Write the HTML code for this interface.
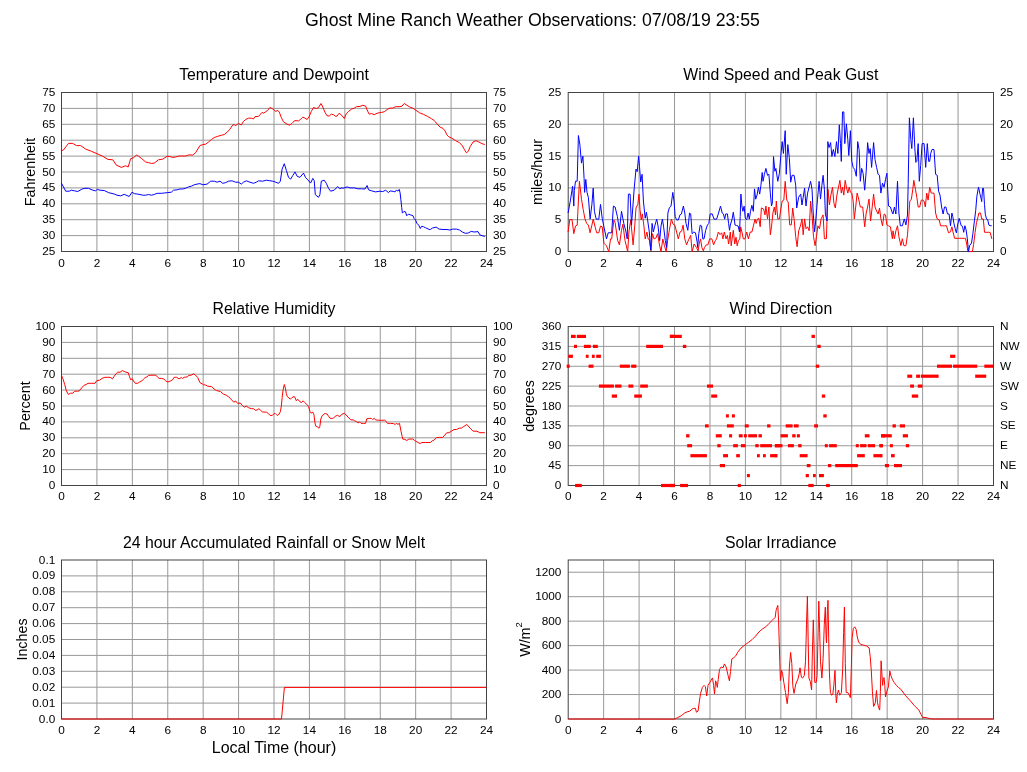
<!DOCTYPE html><html><head><meta charset="utf-8"><style>html,body{margin:0;padding:0;background:#fff;}svg{display:block;will-change:transform;}text{font-family:"Liberation Sans", sans-serif;fill:#000;}</style></head><body>
<svg width="1027" height="772" viewBox="0 0 1027 772">
<text x="532.5" y="26" font-size="17.7" text-anchor="middle">Ghost Mine Ranch Weather Observations: 07/08/19 23:55</text>
<g stroke="#989898" stroke-width="1"><line x1="96.92" y1="92.5" x2="96.92" y2="251.5"/><line x1="132.33" y1="92.5" x2="132.33" y2="251.5"/><line x1="167.75" y1="92.5" x2="167.75" y2="251.5"/><line x1="203.17" y1="92.5" x2="203.17" y2="251.5"/><line x1="238.58" y1="92.5" x2="238.58" y2="251.5"/><line x1="274.00" y1="92.5" x2="274.00" y2="251.5"/><line x1="309.42" y1="92.5" x2="309.42" y2="251.5"/><line x1="344.83" y1="92.5" x2="344.83" y2="251.5"/><line x1="380.25" y1="92.5" x2="380.25" y2="251.5"/><line x1="415.67" y1="92.5" x2="415.67" y2="251.5"/><line x1="451.08" y1="92.5" x2="451.08" y2="251.5"/><line x1="61.5" y1="235.60" x2="486.5" y2="235.60"/><line x1="61.5" y1="219.70" x2="486.5" y2="219.70"/><line x1="61.5" y1="203.80" x2="486.5" y2="203.80"/><line x1="61.5" y1="187.90" x2="486.5" y2="187.90"/><line x1="61.5" y1="172.00" x2="486.5" y2="172.00"/><line x1="61.5" y1="156.10" x2="486.5" y2="156.10"/><line x1="61.5" y1="140.20" x2="486.5" y2="140.20"/><line x1="61.5" y1="124.30" x2="486.5" y2="124.30"/><line x1="61.5" y1="108.40" x2="486.5" y2="108.40"/></g>
<g font-size="11.8"><text x="55.25" y="255.02" text-anchor="end">25</text><text x="493.00" y="255.02">25</text><text x="55.25" y="239.12" text-anchor="end">30</text><text x="493.00" y="239.12">30</text><text x="55.25" y="223.22" text-anchor="end">35</text><text x="493.00" y="223.22">35</text><text x="55.25" y="207.32" text-anchor="end">40</text><text x="493.00" y="207.32">40</text><text x="55.25" y="191.42" text-anchor="end">45</text><text x="493.00" y="191.42">45</text><text x="55.25" y="175.52" text-anchor="end">50</text><text x="493.00" y="175.52">50</text><text x="55.25" y="159.62" text-anchor="end">55</text><text x="493.00" y="159.62">55</text><text x="55.25" y="143.72" text-anchor="end">60</text><text x="493.00" y="143.72">60</text><text x="55.25" y="127.82" text-anchor="end">65</text><text x="493.00" y="127.82">65</text><text x="55.25" y="111.92" text-anchor="end">70</text><text x="493.00" y="111.92">70</text><text x="55.25" y="96.02" text-anchor="end">75</text><text x="493.00" y="96.02">75</text><text x="61.50" y="267.00" text-anchor="middle">0</text><text x="96.92" y="267.00" text-anchor="middle">2</text><text x="132.33" y="267.00" text-anchor="middle">4</text><text x="167.75" y="267.00" text-anchor="middle">6</text><text x="203.17" y="267.00" text-anchor="middle">8</text><text x="238.58" y="267.00" text-anchor="middle">10</text><text x="274.00" y="267.00" text-anchor="middle">12</text><text x="309.42" y="267.00" text-anchor="middle">14</text><text x="344.83" y="267.00" text-anchor="middle">16</text><text x="380.25" y="267.00" text-anchor="middle">18</text><text x="415.67" y="267.00" text-anchor="middle">20</text><text x="451.08" y="267.00" text-anchor="middle">22</text><text x="486.50" y="267.00" text-anchor="middle">24</text></g>
<text x="274.00" y="80.00" font-size="15.8" text-anchor="middle">Temperature and Dewpoint</text>
<text transform="translate(35.00,172.00) rotate(-90)" font-size="14.3" text-anchor="middle">Fahrenheit</text>
<rect x="61.5" y="92.5" width="425.00" height="159.0" fill="none" stroke="#444" stroke-width="1"/>
<polyline fill="none" stroke="#ff0000" stroke-width="1" stroke-linejoin="round" points="61.4,150.6 63.6,149.9 65.7,147.0 68.6,143.4 72.8,143.4 76.4,145.6 80.7,145.6 85.7,149.1 91.4,151.3 97.1,153.7 102.8,156.3 107.8,159.4 112.8,159.8 116.3,165.1 121.3,167.4 125.6,165.8 128.2,167.0 130.6,158.8 133.6,157.7 136.4,155.1 138.6,156.3 141.4,158.4 145.7,162.0 148.5,162.7 151.4,163.4 154.2,163.1 158.5,159.8 162.8,159.1 167.1,156.3 169.9,156.6 172.8,157.4 175.6,157.0 179.2,156.0 182.8,156.0 185.6,156.0 189.2,154.8 192.7,155.1 195.6,152.7 199.9,145.6 202.9,144.6 205.7,144.2 208.6,142.0 211.4,139.5 214.3,137.5 217.8,136.3 221.4,135.2 224.2,134.6 227.1,132.3 229.9,129.2 232.8,124.9 234.2,124.6 235.6,125.6 238.5,123.5 241.3,124.9 243.5,121.4 245.6,119.5 248.5,118.2 251.3,118.2 253.5,118.9 254.9,116.7 258.5,116.4 259.9,114.9 262.0,112.4 263.5,113.2 265.6,111.8 267.7,110.4 269.9,107.5 272.0,108.5 272.9,109.0 275.7,111.4 277.8,110.4 279.3,112.1 281.4,117.8 283.5,121.8 287.1,124.2 290.0,125.2 292.8,122.4 295.0,120.6 298.5,120.9 300.7,119.2 302.8,117.1 304.9,118.1 307.1,119.5 309.2,116.4 311.3,111.4 313.5,107.5 316.3,108.5 318.5,107.5 321.0,103.5 322.8,107.1 324.9,112.1 327.0,115.7 329.2,116.1 331.3,114.2 333.5,114.7 335.6,116.4 337.0,116.1 339.2,113.2 341.3,114.9 344.3,118.5 346.4,113.5 348.6,111.4 351.4,109.2 354.3,108.1 356.4,106.7 360.0,106.4 362.8,105.3 365.7,106.1 367.1,110.0 369.2,114.2 371.4,113.5 374.2,114.7 377.1,113.2 381.3,112.4 384.2,111.8 387.1,109.5 389.9,108.1 392.8,108.1 395.6,106.7 399.9,106.7 402.0,106.1 404.2,103.5 407.0,105.3 409.9,107.1 412.9,108.2 415.8,110.2 419.7,112.9 423.6,114.4 427.5,116.4 431.4,118.7 434.3,120.6 437.2,124.1 440.1,127.1 443.0,128.4 445.0,130.9 446.9,134.8 448.8,136.8 451.7,138.1 455.6,140.7 459.5,142.6 462.4,145.9 464.4,149.4 466.3,152.7 468.3,151.3 470.2,146.5 473.1,142.0 476.0,140.7 478.9,142.0 481.8,143.6 484.8,144.5"/>
<polyline fill="none" stroke="#0000ff" stroke-width="1" stroke-linejoin="round" points="61.4,183.1 65.7,191.2 69.3,191.2 71.4,190.2 74.3,190.8 77.8,191.5 82.1,189.0 85.0,188.3 88.5,188.3 92.8,190.2 95.6,190.8 97.4,189.3 99.9,190.2 104.2,190.5 108.5,192.6 114.2,194.0 117.0,195.2 120.6,195.9 124.2,194.3 129.2,196.5 132.0,192.2 134.3,193.7 137.1,194.0 140.0,194.5 142.8,195.2 145.7,195.2 148.5,194.5 151.4,195.2 154.2,194.5 157.1,193.3 161.4,193.3 164.2,193.0 167.8,192.6 171.3,192.2 173.5,190.2 177.1,189.8 179.9,189.0 182.8,189.0 185.6,188.3 188.5,186.9 191.3,186.2 194.2,184.8 197.0,184.1 199.9,183.6 202.9,184.8 207.1,184.1 210.7,181.2 214.3,181.2 217.1,182.2 220.0,181.2 222.8,183.3 225.7,182.6 228.5,181.2 232.1,180.8 235.6,182.2 238.5,182.2 241.3,184.1 243.5,182.2 246.3,180.8 249.9,182.2 253.5,183.3 256.3,182.2 258.5,180.8 262.7,181.2 266.3,180.2 269.9,180.8 272.9,181.2 275.7,182.2 278.6,183.3 280.3,181.2 282.1,169.1 284.3,163.7 286.4,170.5 288.5,177.4 290.7,179.1 292.8,175.5 295.0,171.9 297.1,176.2 299.9,177.4 303.5,173.1 305.6,177.6 307.8,179.8 310.6,183.1 312.8,178.4 314.2,180.5 315.3,194.7 318.5,197.3 319.9,194.7 321.3,181.2 324.2,180.2 326.3,183.3 328.5,188.3 330.6,191.2 334.2,190.2 337.7,186.5 339.9,188.8 342.0,187.6 342.9,188.3 347.1,186.9 350.0,187.9 354.3,187.9 357.8,188.8 361.4,188.8 365.0,189.0 367.1,185.5 368.5,189.8 371.4,190.8 375.6,191.9 379.9,191.2 382.8,191.6 385.6,190.2 388.5,192.6 390.0,190.9 393.1,191.3 395.0,191.9 396.6,189.9 397.8,191.2 399.3,189.4 400.1,192.9 400.9,199.9 401.7,207.6 402.4,213.1 404.0,211.4 405.5,211.9 406.7,215.8 408.3,214.2 410.2,214.8 412.9,215.6 414.1,218.5 415.6,220.1 416.8,223.2 418.7,225.1 420.3,228.5 421.5,226.3 423.4,226.7 425.7,227.8 430.0,229.8 430.4,229.5 432.3,228.1 436.2,227.1 439.1,229.1 443.0,229.5 446.9,229.5 449.8,230.0 452.7,229.1 456.6,229.1 459.5,230.0 462.4,232.0 465.3,233.3 468.3,233.0 471.2,231.4 474.1,232.0 478.0,231.6 479.9,234.9 484.8,236.5"/>
<g stroke="#989898" stroke-width="1"><line x1="603.64" y1="92.5" x2="603.64" y2="251.5"/><line x1="639.08" y1="92.5" x2="639.08" y2="251.5"/><line x1="674.53" y1="92.5" x2="674.53" y2="251.5"/><line x1="709.97" y1="92.5" x2="709.97" y2="251.5"/><line x1="745.41" y1="92.5" x2="745.41" y2="251.5"/><line x1="780.85" y1="92.5" x2="780.85" y2="251.5"/><line x1="816.29" y1="92.5" x2="816.29" y2="251.5"/><line x1="851.73" y1="92.5" x2="851.73" y2="251.5"/><line x1="887.17" y1="92.5" x2="887.17" y2="251.5"/><line x1="922.62" y1="92.5" x2="922.62" y2="251.5"/><line x1="958.06" y1="92.5" x2="958.06" y2="251.5"/><line x1="568.2" y1="219.70" x2="993.5" y2="219.70"/><line x1="568.2" y1="187.90" x2="993.5" y2="187.90"/><line x1="568.2" y1="156.10" x2="993.5" y2="156.10"/><line x1="568.2" y1="124.30" x2="993.5" y2="124.30"/></g>
<g font-size="11.8"><text x="561.40" y="255.02" text-anchor="end">0</text><text x="1000.00" y="255.02">0</text><text x="561.40" y="223.22" text-anchor="end">5</text><text x="1000.00" y="223.22">5</text><text x="561.40" y="191.42" text-anchor="end">10</text><text x="1000.00" y="191.42">10</text><text x="561.40" y="159.62" text-anchor="end">15</text><text x="1000.00" y="159.62">15</text><text x="561.40" y="127.82" text-anchor="end">20</text><text x="1000.00" y="127.82">20</text><text x="561.40" y="96.02" text-anchor="end">25</text><text x="1000.00" y="96.02">25</text><text x="568.20" y="267.00" text-anchor="middle">0</text><text x="603.64" y="267.00" text-anchor="middle">2</text><text x="639.08" y="267.00" text-anchor="middle">4</text><text x="674.53" y="267.00" text-anchor="middle">6</text><text x="709.97" y="267.00" text-anchor="middle">8</text><text x="745.41" y="267.00" text-anchor="middle">10</text><text x="780.85" y="267.00" text-anchor="middle">12</text><text x="816.29" y="267.00" text-anchor="middle">14</text><text x="851.73" y="267.00" text-anchor="middle">16</text><text x="887.17" y="267.00" text-anchor="middle">18</text><text x="922.62" y="267.00" text-anchor="middle">20</text><text x="958.06" y="267.00" text-anchor="middle">22</text><text x="993.50" y="267.00" text-anchor="middle">24</text></g>
<text x="780.85" y="80.00" font-size="15.8" text-anchor="middle">Wind Speed and Peak Gust</text>
<text transform="translate(542.00,172.00) rotate(-90)" font-size="14.3" text-anchor="middle">miles/hour</text>
<rect x="568.2" y="92.5" width="425.30" height="159.0" fill="none" stroke="#444" stroke-width="1"/>
<polyline fill="none" stroke="#ff0000" stroke-width="1" stroke-linejoin="round" points="568.1,232.0 569.8,219.6 572.0,219.6 573.8,233.7 575.5,226.0 577.2,225.1 579.4,181.2 581.5,199.2 583.2,209.6 585.0,219.1 586.7,223.4 588.4,225.1 590.1,232.8 591.9,225.1 593.2,219.1 595.3,227.7 596.7,232.8 598.8,232.8 600.5,226.0 602.2,226.8 603.9,243.2 606.5,245.8 608.8,251.8 610.5,238.9 611.7,238.9 613.9,219.9 615.1,222.5 617.7,240.6 619.4,244.9 621.5,230.3 622.9,224.2 625.0,240.6 626.3,245.8 627.7,251.8 628.9,232.0 630.7,219.9 632.4,237.2 633.1,244.9 634.8,225.1 636.0,207.9 637.8,204.4 639.0,194.1 640.0,209.6 641.2,219.9 642.4,213.9 643.8,225.1 645.2,238.9 646.9,232.0 648.1,238.9 649.3,239.7 651.0,250.9 652.4,233.7 654.1,238.9 655.9,238.0 657.6,233.7 659.3,244.0 661.0,251.8 662.8,238.9 664.5,245.8 666.2,251.8 667.6,240.6 669.3,230.3 671.4,219.1 673.1,224.2 674.8,225.1 676.6,232.0 678.3,238.9 680.0,232.0 681.7,231.1 683.1,225.1 684.8,238.9 686.6,244.9 688.6,239.7 690.7,235.4 692.1,251.8 694.1,244.0 696.4,247.5 698.1,250.9 699.3,243.2 700.5,238.9 701.9,247.5 703.3,250.9 704.5,247.5 706.2,244.9 707.9,244.9 709.7,238.9 711.9,238.9 713.6,244.9 715.3,240.6 716.6,238.9 718.3,232.0 720.0,234.6 721.7,232.8 722.9,238.9 724.3,232.0 726.0,238.9 727.4,235.4 728.6,244.0 730.3,232.0 731.2,245.8 732.1,238.9 733.3,230.3 734.7,244.0 736.0,237.2 737.2,245.8 738.4,240.6 739.8,238.9 740.7,226.8 741.9,232.0 743.3,238.9 745.0,238.9 746.7,232.0 748.4,238.9 750.2,232.0 751.9,232.0 753.6,225.1 755.0,219.1 756.2,223.4 757.4,219.1 758.8,218.2 760.2,226.8 761.4,207.9 763.6,209.0 765.0,214.9 765.9,206.0 767.5,218.9 768.9,207.0 770.3,234.8 771.5,226.8 772.9,213.0 774.3,207.0 775.5,214.9 776.3,201.1 777.8,218.9 779.4,218.9 780.8,209.0 782.2,201.1 783.8,200.1 785.2,181.3 786.8,200.1 788.2,202.1 789.7,224.9 791.3,224.9 792.7,208.0 794.1,218.9 795.7,236.7 797.1,246.7 798.7,230.8 800.7,224.9 802.0,218.9 803.2,234.8 804.6,218.9 806.0,228.8 807.6,226.8 809.2,230.8 810.6,201.1 812.0,214.9 813.5,236.7 815.1,245.7 816.5,236.7 817.9,225.8 819.5,228.8 821.1,218.9 823.1,214.9 824.4,238.7 826.4,238.7 828.0,189.2 829.4,205.0 830.9,195.1 832.5,187.2 833.9,203.1 835.3,208.0 836.9,195.1 838.5,187.2 839.9,180.3 841.3,193.1 842.5,187.2 843.8,195.1 845.2,180.3 846.4,187.2 847.8,193.1 849.2,187.2 850.4,192.2 851.8,193.1 853.2,201.1 854.3,218.9 855.7,207.0 857.1,193.1 858.7,199.1 860.3,207.0 862.7,207.0 864.7,226.8 866.2,213.0 867.6,207.0 869.0,199.1 870.6,220.9 872.2,207.0 873.6,194.1 875.0,207.0 876.6,211.0 878.1,214.0 879.5,208.0 880.9,218.9 882.5,225.8 884.1,214.0 885.5,214.9 886.9,224.9 888.5,225.8 890.4,226.8 892.4,238.7 893.0,230.8 894.4,238.7 895.9,230.8 897.5,225.8 898.9,236.7 900.9,245.7 902.3,238.7 903.9,245.7 905.9,245.7 907.5,234.8 908.8,216.9 909.8,201.1 911.4,199.1 912.8,189.2 913.8,180.3 915.4,189.2 916.8,197.1 918.2,207.0 919.7,207.0 921.3,200.1 922.7,200.1 924.1,201.1 925.3,207.0 926.7,193.1 928.1,200.1 929.7,187.2 931.2,193.1 932.6,193.1 934.0,193.1 935.6,213.0 937.2,218.9 939.2,219.9 940.6,225.8 942.5,225.8 944.5,225.8 946.5,225.8 948.5,232.8 950.5,231.8 951.9,226.8 952.8,231.1 954.6,238.3 957.0,238.3 959.4,238.3 961.9,238.3 964.3,238.3 965.5,238.3 966.7,244.3 967.9,251.6 970.9,251.6 972.4,251.6 973.6,244.3 975.1,232.3 976.5,222.6 978.1,216.6 978.9,213.0 980.5,213.0 981.7,219.0 983.3,219.0 984.5,232.3 985.9,232.3 988.3,232.3 990.1,232.3 991.9,238.9"/>
<polyline fill="none" stroke="#0000ff" stroke-width="1" stroke-linejoin="round" points="568.1,213.0 570.3,201.0 572.6,186.3 573.8,206.1 574.3,190.6 575.5,181.2 577.2,181.2 578.4,135.5 579.8,144.1 581.5,163.1 582.9,156.2 584.1,178.6 584.6,192.4 585.8,179.4 587.0,192.4 588.4,197.5 590.1,219.1 591.9,204.4 593.2,188.1 594.4,211.3 596.2,219.1 598.8,219.1 600.5,204.4 602.2,218.2 603.9,226.8 606.5,238.9 608.2,232.8 611.7,232.8 613.4,206.1 615.1,207.0 617.4,216.5 619.4,230.3 621.5,211.3 623.8,223.4 626.0,232.0 627.2,238.9 628.4,194.1 630.1,194.1 631.5,225.1 634.3,187.2 636.0,169.1 637.2,171.7 638.6,156.2 639.5,166.5 640.7,182.0 642.1,174.3 643.4,201.0 645.2,218.2 646.4,212.2 647.6,219.9 649.3,232.0 650.7,250.1 652.1,223.4 653.3,232.0 655.0,225.1 656.7,219.1 657.9,225.1 659.7,240.6 661.0,226.0 662.4,219.1 663.6,226.8 665.3,240.6 666.6,247.5 667.9,213.0 669.3,207.9 671.0,206.1 672.8,192.4 674.0,201.0 675.2,216.5 676.6,219.9 678.3,219.9 680.0,214.8 681.4,213.9 683.4,206.1 684.8,213.0 686.0,223.4 687.8,230.3 689.5,213.0 690.7,213.9 692.1,233.7 693.8,232.0 695.5,232.8 697.2,242.3 697.6,247.5 698.8,233.7 700.2,225.1 701.6,226.0 702.8,238.9 704.0,238.9 705.7,230.3 707.4,225.1 708.8,223.4 710.2,213.9 712.2,213.9 714.0,219.1 716.6,219.1 718.3,213.9 720.5,206.1 722.2,213.0 723.4,213.9 724.7,219.1 725.7,213.9 727.4,213.9 728.6,223.4 729.5,230.3 730.3,225.1 732.1,219.1 733.3,212.2 734.3,219.1 735.0,225.1 736.4,225.4 738.1,226.0 739.5,232.0 740.2,216.5 740.9,194.1 741.9,206.1 742.9,211.3 744.1,206.1 745.3,218.2 746.7,219.9 748.1,213.0 749.3,219.1 750.5,211.3 751.9,205.3 753.3,211.3 754.5,188.9 755.7,199.2 757.1,194.9 758.4,187.2 759.7,194.1 760.9,185.5 762.2,172.5 763.0,181.3 764.4,174.3 765.9,168.4 767.5,175.3 768.9,174.3 770.3,193.1 771.5,206.0 772.3,203.1 773.5,156.5 774.9,171.3 775.9,168.4 777.8,181.3 779.4,173.3 780.8,155.5 782.2,141.6 783.4,153.5 785.2,130.7 786.2,174.3 787.8,144.6 789.3,157.5 790.7,182.2 792.1,175.3 794.1,175.3 795.7,185.2 796.7,208.0 798.7,197.1 800.7,194.1 802.0,205.0 803.2,197.1 804.6,188.2 806.0,206.0 807.6,193.1 809.6,185.2 810.6,181.3 812.0,189.2 813.1,211.0 814.5,231.8 815.9,218.9 817.5,199.1 819.1,181.3 820.5,199.1 821.9,185.2 823.1,175.3 824.4,189.2 825.4,214.0 827.0,220.9 827.8,141.6 829.0,147.6 830.6,142.6 831.9,156.5 833.3,149.5 834.9,156.5 836.5,141.6 837.9,153.5 839.3,124.8 840.5,143.6 841.3,161.4 842.5,111.9 843.8,111.9 844.8,143.6 846.4,123.8 847.8,139.6 848.8,155.5 850.4,130.7 851.8,161.4 853.2,167.4 854.7,169.4 856.3,176.3 857.7,141.6 859.1,149.5 860.3,181.3 861.7,168.4 863.1,173.3 864.7,190.2 866.2,171.3 867.6,142.6 869.0,153.5 870.2,148.6 871.6,167.4 873.6,142.6 875.0,159.5 876.6,167.4 878.1,174.3 879.5,175.3 880.9,193.1 882.5,183.2 884.1,187.2 885.5,179.3 886.9,173.3 888.5,206.0 890.4,207.0 892.4,213.0 893.0,214.0 894.4,207.0 895.9,214.0 897.5,181.3 898.9,213.0 900.3,225.8 902.3,225.8 904.3,218.9 905.9,224.9 907.5,214.9 908.2,183.2 909.4,117.8 910.8,139.6 911.8,148.6 913.4,117.8 914.8,147.6 915.8,162.4 916.8,161.4 918.2,143.6 919.3,181.3 920.7,165.4 922.1,143.6 924.1,143.6 925.7,167.4 927.3,143.6 928.7,161.4 929.7,161.4 930.7,153.5 932.0,149.5 934.0,149.5 935.6,174.3 937.2,175.3 938.6,191.2 940.0,195.1 941.6,207.0 943.1,214.0 944.5,207.0 945.9,207.0 947.5,214.0 949.1,214.0 950.5,225.8 951.9,213.0 952.8,216.6 954.0,223.8 955.2,228.7 956.4,232.9 957.6,225.1 959.2,218.4 960.4,222.6 961.2,225.7 962.5,226.3 963.7,232.3 964.9,225.7 966.1,229.9 967.3,238.3 968.5,251.6 969.7,245.5 971.5,243.1 972.9,233.5 974.5,220.2 975.7,210.6 976.9,196.1 978.5,187.1 979.9,193.7 981.1,198.5 981.7,201.6 982.6,188.3 983.5,188.3 984.5,204.6 985.3,214.2 986.5,219.0 987.7,219.6 988.9,225.1 990.1,225.7 991.7,225.7"/>
<g stroke="#989898" stroke-width="1"><line x1="96.92" y1="326.5" x2="96.92" y2="485.5"/><line x1="132.33" y1="326.5" x2="132.33" y2="485.5"/><line x1="167.75" y1="326.5" x2="167.75" y2="485.5"/><line x1="203.17" y1="326.5" x2="203.17" y2="485.5"/><line x1="238.58" y1="326.5" x2="238.58" y2="485.5"/><line x1="274.00" y1="326.5" x2="274.00" y2="485.5"/><line x1="309.42" y1="326.5" x2="309.42" y2="485.5"/><line x1="344.83" y1="326.5" x2="344.83" y2="485.5"/><line x1="380.25" y1="326.5" x2="380.25" y2="485.5"/><line x1="415.67" y1="326.5" x2="415.67" y2="485.5"/><line x1="451.08" y1="326.5" x2="451.08" y2="485.5"/><line x1="61.5" y1="469.60" x2="486.5" y2="469.60"/><line x1="61.5" y1="453.70" x2="486.5" y2="453.70"/><line x1="61.5" y1="437.80" x2="486.5" y2="437.80"/><line x1="61.5" y1="421.90" x2="486.5" y2="421.90"/><line x1="61.5" y1="406.00" x2="486.5" y2="406.00"/><line x1="61.5" y1="390.10" x2="486.5" y2="390.10"/><line x1="61.5" y1="374.20" x2="486.5" y2="374.20"/><line x1="61.5" y1="358.30" x2="486.5" y2="358.30"/><line x1="61.5" y1="342.40" x2="486.5" y2="342.40"/></g>
<g font-size="11.8"><text x="55.25" y="489.02" text-anchor="end">0</text><text x="493.00" y="489.02">0</text><text x="55.25" y="473.12" text-anchor="end">10</text><text x="493.00" y="473.12">10</text><text x="55.25" y="457.22" text-anchor="end">20</text><text x="493.00" y="457.22">20</text><text x="55.25" y="441.32" text-anchor="end">30</text><text x="493.00" y="441.32">30</text><text x="55.25" y="425.42" text-anchor="end">40</text><text x="493.00" y="425.42">40</text><text x="55.25" y="409.52" text-anchor="end">50</text><text x="493.00" y="409.52">50</text><text x="55.25" y="393.62" text-anchor="end">60</text><text x="493.00" y="393.62">60</text><text x="55.25" y="377.72" text-anchor="end">70</text><text x="493.00" y="377.72">70</text><text x="55.25" y="361.82" text-anchor="end">80</text><text x="493.00" y="361.82">80</text><text x="55.25" y="345.92" text-anchor="end">90</text><text x="493.00" y="345.92">90</text><text x="55.25" y="330.02" text-anchor="end">100</text><text x="493.00" y="330.02">100</text><text x="61.50" y="500.10" text-anchor="middle">0</text><text x="96.92" y="500.10" text-anchor="middle">2</text><text x="132.33" y="500.10" text-anchor="middle">4</text><text x="167.75" y="500.10" text-anchor="middle">6</text><text x="203.17" y="500.10" text-anchor="middle">8</text><text x="238.58" y="500.10" text-anchor="middle">10</text><text x="274.00" y="500.10" text-anchor="middle">12</text><text x="309.42" y="500.10" text-anchor="middle">14</text><text x="344.83" y="500.10" text-anchor="middle">16</text><text x="380.25" y="500.10" text-anchor="middle">18</text><text x="415.67" y="500.10" text-anchor="middle">20</text><text x="451.08" y="500.10" text-anchor="middle">22</text><text x="486.50" y="500.10" text-anchor="middle">24</text></g>
<text x="274.00" y="314.00" font-size="15.8" text-anchor="middle">Relative Humidity</text>
<text transform="translate(30.20,406.00) rotate(-90)" font-size="14.3" text-anchor="middle">Percent</text>
<rect x="61.5" y="326.5" width="425.00" height="159.0" fill="none" stroke="#444" stroke-width="1"/>
<polyline fill="none" stroke="#ff0000" stroke-width="1" stroke-linejoin="round" points="61.4,375.2 62.9,378.7 64.7,384.5 66.4,390.9 68.4,394.4 70.5,393.2 72.8,393.2 74.6,391.2 77.5,391.2 79.2,390.9 81.6,388.0 83.9,385.4 86.2,384.5 88.0,383.3 91.5,383.3 95.0,383.3 96.7,380.8 99.7,380.1 102.0,378.4 104.9,377.3 107.8,377.3 110.2,377.3 112.5,378.9 114.2,376.3 116.0,373.8 117.7,372.2 120.1,372.2 122.4,370.7 124.2,371.4 125.9,372.2 128.2,372.6 129.4,376.3 130.6,379.8 132.3,378.7 133.5,381.0 135.2,383.3 137.6,383.3 139.3,382.2 141.7,381.0 143.4,379.2 145.2,377.5 146.9,376.9 148.7,375.4 151.0,375.2 153.3,375.2 155.9,375.2 157.4,376.9 159.2,378.4 161.5,378.4 163.8,378.9 165.6,380.8 167.3,381.9 169.1,381.6 170.8,380.8 172.6,379.8 174.1,377.3 176.7,377.3 179.0,378.9 181.3,377.5 182.5,378.4 184.2,377.3 187.2,376.9 188.9,375.4 191.2,375.2 193.6,373.8 195.3,374.9 197.7,377.5 200.0,382.7 202.3,383.9 203.5,384.7 205.8,385.1 207.6,386.2 211.7,386.6 214.0,388.9 216.3,390.5 220.4,391.5 223.3,394.0 226.2,395.2 228.6,396.7 230.9,399.1 233.8,402.2 235.6,401.0 237.9,403.7 240.2,402.9 242.6,405.7 244.3,407.2 246.1,406.0 248.4,407.6 251.3,408.7 253.7,408.7 255.4,410.4 257.2,409.9 258.9,408.7 260.7,410.4 262.4,411.9 266.5,412.2 268.2,413.4 270.0,415.4 272.3,415.4 273.6,414.0 275.0,413.3 276.3,414.6 277.7,415.5 279.1,414.0 280.4,411.7 281.3,406.3 282.2,397.2 283.1,389.9 284.3,384.5 285.4,388.1 286.3,393.6 287.2,396.3 289.0,398.1 290.4,399.2 291.8,397.7 294.0,396.5 294.9,397.2 296.3,400.8 297.7,399.2 299.9,401.7 301.7,402.5 303.1,400.8 304.9,402.6 307.2,404.9 308.5,406.3 309.9,411.3 311.3,413.3 312.6,411.9 314.0,414.9 314.9,422.6 315.8,426.2 317.2,426.7 319.0,428.2 319.9,426.2 320.8,419.0 322.1,415.8 324.0,414.0 325.3,413.5 327.1,414.0 328.5,416.2 329.9,418.1 332.1,418.5 333.5,418.1 335.3,416.2 337.6,415.3 339.8,416.7 341.6,414.4 344.3,413.3 345.4,414.1 347.0,416.0 348.9,418.0 350.9,419.9 353.2,419.9 354.4,420.7 356.3,421.5 358.3,423.0 359.4,421.7 361.0,423.3 363.3,423.4 365.6,423.3 366.8,418.8 368.8,418.4 371.5,418.4 372.6,419.5 374.2,418.4 375.8,419.9 378.1,420.2 381.2,420.3 384.7,420.2 385.9,421.1 387.4,423.3 390.5,423.4 393.6,423.6 395.2,424.6 396.3,423.3 397.9,424.4 399.5,423.3 399.8,425.0 401.0,431.2 402.2,436.6 402.8,439.1 404.9,439.4 406.8,440.5 408.8,439.1 412.7,439.0 414.7,440.5 417.4,442.2 420.1,443.6 421.7,442.5 425.6,442.5 430.3,442.5 432.2,440.9 434.1,440.1 436.5,437.6 439.6,437.4 442.7,437.4 444.7,435.2 446.6,432.9 448.9,432.7 451.3,431.3 454.0,429.5 456.7,429.5 459.1,428.1 461.4,428.1 463.7,426.5 466.9,424.5 470.0,428.1 473.1,431.2 477.0,431.2 479.7,432.7 484.8,432.7"/>
<g stroke="#989898" stroke-width="1"><line x1="603.64" y1="326.5" x2="603.64" y2="485.5"/><line x1="639.08" y1="326.5" x2="639.08" y2="485.5"/><line x1="674.53" y1="326.5" x2="674.53" y2="485.5"/><line x1="709.97" y1="326.5" x2="709.97" y2="485.5"/><line x1="745.41" y1="326.5" x2="745.41" y2="485.5"/><line x1="780.85" y1="326.5" x2="780.85" y2="485.5"/><line x1="816.29" y1="326.5" x2="816.29" y2="485.5"/><line x1="851.73" y1="326.5" x2="851.73" y2="485.5"/><line x1="887.17" y1="326.5" x2="887.17" y2="485.5"/><line x1="922.62" y1="326.5" x2="922.62" y2="485.5"/><line x1="958.06" y1="326.5" x2="958.06" y2="485.5"/><line x1="568.2" y1="465.62" x2="993.5" y2="465.62"/><line x1="568.2" y1="445.75" x2="993.5" y2="445.75"/><line x1="568.2" y1="425.88" x2="993.5" y2="425.88"/><line x1="568.2" y1="406.00" x2="993.5" y2="406.00"/><line x1="568.2" y1="386.12" x2="993.5" y2="386.12"/><line x1="568.2" y1="366.25" x2="993.5" y2="366.25"/><line x1="568.2" y1="346.38" x2="993.5" y2="346.38"/></g>
<g font-size="11.8"><text x="561.40" y="489.02" text-anchor="end">0</text><text x="561.40" y="469.15" text-anchor="end">45</text><text x="561.40" y="449.27" text-anchor="end">90</text><text x="561.40" y="429.40" text-anchor="end">135</text><text x="561.40" y="409.52" text-anchor="end">180</text><text x="561.40" y="389.65" text-anchor="end">225</text><text x="561.40" y="369.77" text-anchor="end">270</text><text x="561.40" y="349.90" text-anchor="end">315</text><text x="561.40" y="330.02" text-anchor="end">360</text><text x="1000.00" y="489.02">N</text><text x="1000.00" y="469.15">NE</text><text x="1000.00" y="449.27">E</text><text x="1000.00" y="429.40">SE</text><text x="1000.00" y="409.52">S</text><text x="1000.00" y="389.65">SW</text><text x="1000.00" y="369.77">W</text><text x="1000.00" y="349.90">NW</text><text x="1000.00" y="330.02">N</text><text x="568.20" y="500.10" text-anchor="middle">0</text><text x="603.64" y="500.10" text-anchor="middle">2</text><text x="639.08" y="500.10" text-anchor="middle">4</text><text x="674.53" y="500.10" text-anchor="middle">6</text><text x="709.97" y="500.10" text-anchor="middle">8</text><text x="745.41" y="500.10" text-anchor="middle">10</text><text x="780.85" y="500.10" text-anchor="middle">12</text><text x="816.29" y="500.10" text-anchor="middle">14</text><text x="851.73" y="500.10" text-anchor="middle">16</text><text x="887.17" y="500.10" text-anchor="middle">18</text><text x="922.62" y="500.10" text-anchor="middle">20</text><text x="958.06" y="500.10" text-anchor="middle">22</text><text x="993.50" y="500.10" text-anchor="middle">24</text></g>
<text x="780.85" y="314.00" font-size="15.8" text-anchor="middle">Wind Direction</text>
<text transform="translate(533.70,406.00) rotate(-90)" font-size="14.3" text-anchor="middle">degrees</text>
<rect x="568.2" y="326.5" width="425.30" height="159.0" fill="none" stroke="#444" stroke-width="1"/>
<g fill="#ff0000"><rect x="571.0" y="334.8" width="4.7" height="3.2"/><rect x="576.8" y="334.8" width="9.2" height="3.2"/><rect x="669.8" y="334.8" width="5.2" height="3.2"/><rect x="574.0" y="344.8" width="3.0" height="3.2"/><rect x="583.9" y="344.8" width="6.9" height="3.2"/><rect x="592.9" y="344.8" width="4.9" height="3.2"/><rect x="646.2" y="344.8" width="16.8" height="3.2"/><rect x="568.2" y="354.7" width="4.7" height="3.2"/><rect x="585.8" y="354.7" width="2.8" height="3.2"/><rect x="591.9" y="354.7" width="2.8" height="3.2"/><rect x="596.2" y="354.7" width="4.7" height="3.2"/><rect x="566.7" y="364.6" width="3.0" height="3.2"/><rect x="588.6" y="364.6" width="4.9" height="3.2"/><rect x="619.8" y="364.6" width="10.1" height="3.2"/><rect x="631.2" y="364.6" width="5.2" height="3.2"/><rect x="598.9" y="384.5" width="15.0" height="3.2"/><rect x="615.1" y="384.5" width="6.4" height="3.2"/><rect x="628.4" y="384.5" width="4.9" height="3.2"/><rect x="640.2" y="384.5" width="7.7" height="3.2"/><rect x="611.8" y="394.5" width="5.2" height="3.2"/><rect x="634.2" y="394.5" width="7.7" height="3.2"/><rect x="575.1" y="483.9" width="6.7" height="3.2"/><rect x="661.0" y="483.9" width="14.0" height="3.2"/><rect x="670.0" y="334.8" width="11.8" height="3.2"/><rect x="682.9" y="344.8" width="3.4" height="3.2"/><rect x="707.0" y="384.5" width="6.0" height="3.2"/><rect x="711.2" y="394.5" width="6.0" height="3.2"/><rect x="725.9" y="414.3" width="3.0" height="3.2"/><rect x="731.9" y="414.3" width="3.0" height="3.2"/><rect x="705.0" y="424.3" width="3.7" height="3.2"/><rect x="726.9" y="424.3" width="6.9" height="3.2"/><rect x="744.8" y="424.3" width="3.9" height="3.2"/><rect x="767.1" y="424.3" width="3.4" height="3.2"/><rect x="686.1" y="434.2" width="3.4" height="3.2"/><rect x="715.8" y="434.2" width="6.0" height="3.2"/><rect x="729.1" y="434.2" width="3.0" height="3.2"/><rect x="738.8" y="434.2" width="3.9" height="3.2"/><rect x="743.9" y="434.2" width="3.0" height="3.2"/><rect x="748.2" y="434.2" width="8.8" height="3.2"/><rect x="758.5" y="434.2" width="3.4" height="3.2"/><rect x="687.2" y="444.1" width="4.9" height="3.2"/><rect x="717.3" y="444.1" width="3.4" height="3.2"/><rect x="733.2" y="444.1" width="4.7" height="3.2"/><rect x="740.9" y="444.1" width="4.7" height="3.2"/><rect x="755.3" y="444.1" width="3.4" height="3.2"/><rect x="760.2" y="444.1" width="11.8" height="3.2"/><rect x="774.8" y="444.1" width="5.2" height="3.2"/><rect x="690.4" y="454.1" width="16.5" height="3.2"/><rect x="723.1" y="454.1" width="4.9" height="3.2"/><rect x="736.2" y="454.1" width="3.7" height="3.2"/><rect x="757.0" y="454.1" width="2.8" height="3.2"/><rect x="763.0" y="454.1" width="2.8" height="3.2"/><rect x="770.1" y="454.1" width="6.7" height="3.2"/><rect x="719.8" y="464.0" width="5.2" height="3.2"/><rect x="746.9" y="474.0" width="3.0" height="3.2"/><rect x="670.0" y="483.9" width="4.7" height="3.2"/><rect x="680.1" y="483.9" width="7.9" height="3.2"/><rect x="737.7" y="483.9" width="3.2" height="3.2"/><rect x="811.5" y="334.8" width="3.4" height="3.2"/><rect x="817.3" y="344.8" width="3.4" height="3.2"/><rect x="815.8" y="364.6" width="3.4" height="3.2"/><rect x="821.8" y="394.5" width="3.4" height="3.2"/><rect x="823.3" y="414.3" width="3.4" height="3.2"/><rect x="785.7" y="424.3" width="6.9" height="3.2"/><rect x="793.9" y="424.3" width="4.7" height="3.2"/><rect x="814.1" y="424.3" width="3.9" height="3.2"/><rect x="780.6" y="434.2" width="7.3" height="3.2"/><rect x="792.2" y="434.2" width="3.4" height="3.2"/><rect x="796.9" y="434.2" width="3.0" height="3.2"/><rect x="864.8" y="434.2" width="4.7" height="3.2"/><rect x="881.1" y="434.2" width="3.9" height="3.2"/><rect x="775.0" y="444.1" width="7.5" height="3.2"/><rect x="787.9" y="444.1" width="6.0" height="3.2"/><rect x="798.2" y="444.1" width="3.4" height="3.2"/><rect x="824.8" y="444.1" width="3.0" height="3.2"/><rect x="829.1" y="444.1" width="7.7" height="3.2"/><rect x="855.8" y="444.1" width="3.0" height="3.2"/><rect x="860.1" y="444.1" width="6.4" height="3.2"/><rect x="867.8" y="444.1" width="7.3" height="3.2"/><rect x="879.2" y="444.1" width="3.2" height="3.2"/><rect x="775.0" y="454.1" width="2.5" height="3.2"/><rect x="799.7" y="454.1" width="7.9" height="3.2"/><rect x="857.1" y="454.1" width="7.7" height="3.2"/><rect x="873.4" y="454.1" width="7.7" height="3.2"/><rect x="806.8" y="464.0" width="3.7" height="3.2"/><rect x="827.9" y="464.0" width="3.4" height="3.2"/><rect x="835.2" y="464.0" width="22.6" height="3.2"/><rect x="805.7" y="474.0" width="3.2" height="3.2"/><rect x="813.0" y="474.0" width="2.8" height="3.2"/><rect x="819.0" y="474.0" width="4.9" height="3.2"/><rect x="808.3" y="483.9" width="5.4" height="3.2"/><rect x="826.1" y="483.9" width="3.7" height="3.2"/><rect x="950.1" y="354.7" width="5.2" height="3.2"/><rect x="937.0" y="364.6" width="15.0" height="3.2"/><rect x="953.1" y="364.6" width="24.1" height="3.2"/><rect x="984.3" y="364.6" width="9.0" height="3.2"/><rect x="907.3" y="374.6" width="4.9" height="3.2"/><rect x="916.1" y="374.6" width="3.9" height="3.2"/><rect x="920.8" y="374.6" width="17.8" height="3.2"/><rect x="975.2" y="374.6" width="11.0" height="3.2"/><rect x="910.1" y="384.5" width="3.9" height="3.2"/><rect x="917.8" y="384.5" width="4.7" height="3.2"/><rect x="911.8" y="394.5" width="6.4" height="3.2"/><rect x="892.5" y="424.3" width="3.4" height="3.2"/><rect x="899.8" y="424.3" width="5.2" height="3.2"/><rect x="881.1" y="434.2" width="10.7" height="3.2"/><rect x="902.8" y="434.2" width="5.2" height="3.2"/><rect x="880.0" y="444.1" width="3.0" height="3.2"/><rect x="889.9" y="444.1" width="3.0" height="3.2"/><rect x="905.8" y="444.1" width="3.4" height="3.2"/><rect x="880.0" y="454.1" width="2.5" height="3.2"/><rect x="891.0" y="454.1" width="3.7" height="3.2"/><rect x="884.9" y="464.0" width="4.1" height="3.2"/><rect x="894.0" y="464.0" width="8.0" height="3.2"/></g>
<g stroke="#989898" stroke-width="1"><line x1="96.92" y1="560.0" x2="96.92" y2="719.0"/><line x1="132.33" y1="560.0" x2="132.33" y2="719.0"/><line x1="167.75" y1="560.0" x2="167.75" y2="719.0"/><line x1="203.17" y1="560.0" x2="203.17" y2="719.0"/><line x1="238.58" y1="560.0" x2="238.58" y2="719.0"/><line x1="274.00" y1="560.0" x2="274.00" y2="719.0"/><line x1="309.42" y1="560.0" x2="309.42" y2="719.0"/><line x1="344.83" y1="560.0" x2="344.83" y2="719.0"/><line x1="380.25" y1="560.0" x2="380.25" y2="719.0"/><line x1="415.67" y1="560.0" x2="415.67" y2="719.0"/><line x1="451.08" y1="560.0" x2="451.08" y2="719.0"/><line x1="61.5" y1="703.10" x2="486.5" y2="703.10"/><line x1="61.5" y1="687.20" x2="486.5" y2="687.20"/><line x1="61.5" y1="671.30" x2="486.5" y2="671.30"/><line x1="61.5" y1="655.40" x2="486.5" y2="655.40"/><line x1="61.5" y1="639.50" x2="486.5" y2="639.50"/><line x1="61.5" y1="623.60" x2="486.5" y2="623.60"/><line x1="61.5" y1="607.70" x2="486.5" y2="607.70"/><line x1="61.5" y1="591.80" x2="486.5" y2="591.80"/><line x1="61.5" y1="575.90" x2="486.5" y2="575.90"/></g>
<g font-size="11.8"><text x="55.25" y="722.52" text-anchor="end">0.0</text><text x="55.25" y="706.62" text-anchor="end">0.01</text><text x="55.25" y="690.72" text-anchor="end">0.02</text><text x="55.25" y="674.82" text-anchor="end">0.03</text><text x="55.25" y="658.92" text-anchor="end">0.04</text><text x="55.25" y="643.02" text-anchor="end">0.05</text><text x="55.25" y="627.12" text-anchor="end">0.06</text><text x="55.25" y="611.22" text-anchor="end">0.07</text><text x="55.25" y="595.32" text-anchor="end">0.08</text><text x="55.25" y="579.42" text-anchor="end">0.09</text><text x="55.25" y="563.52" text-anchor="end">0.1</text><text x="61.50" y="734.00" text-anchor="middle">0</text><text x="96.92" y="734.00" text-anchor="middle">2</text><text x="132.33" y="734.00" text-anchor="middle">4</text><text x="167.75" y="734.00" text-anchor="middle">6</text><text x="203.17" y="734.00" text-anchor="middle">8</text><text x="238.58" y="734.00" text-anchor="middle">10</text><text x="274.00" y="734.00" text-anchor="middle">12</text><text x="309.42" y="734.00" text-anchor="middle">14</text><text x="344.83" y="734.00" text-anchor="middle">16</text><text x="380.25" y="734.00" text-anchor="middle">18</text><text x="415.67" y="734.00" text-anchor="middle">20</text><text x="451.08" y="734.00" text-anchor="middle">22</text><text x="486.50" y="734.00" text-anchor="middle">24</text></g>
<text x="274.00" y="548.00" font-size="15.8" text-anchor="middle">24 hour Accumulated Rainfall or Snow Melt</text>
<text transform="translate(27.00,639.50) rotate(-90)" font-size="14.3" text-anchor="middle">Inches</text>
<text x="274.00" y="752.7" font-size="16" text-anchor="middle">Local Time (hour)</text>
<rect x="61.5" y="560.0" width="425.00" height="159.0" fill="none" stroke="#444" stroke-width="1"/>
<polyline fill="none" stroke="#ff0000" stroke-width="1" stroke-linejoin="round" points="61.5,719.0 281.5,719.0 284.4,687.4 486.5,687.4"/>
<g stroke="#989898" stroke-width="1"><line x1="603.64" y1="560.0" x2="603.64" y2="719.0"/><line x1="639.08" y1="560.0" x2="639.08" y2="719.0"/><line x1="674.53" y1="560.0" x2="674.53" y2="719.0"/><line x1="709.97" y1="560.0" x2="709.97" y2="719.0"/><line x1="745.41" y1="560.0" x2="745.41" y2="719.0"/><line x1="780.85" y1="560.0" x2="780.85" y2="719.0"/><line x1="816.29" y1="560.0" x2="816.29" y2="719.0"/><line x1="851.73" y1="560.0" x2="851.73" y2="719.0"/><line x1="887.17" y1="560.0" x2="887.17" y2="719.0"/><line x1="922.62" y1="560.0" x2="922.62" y2="719.0"/><line x1="958.06" y1="560.0" x2="958.06" y2="719.0"/><line x1="568.2" y1="694.54" x2="993.5" y2="694.54"/><line x1="568.2" y1="670.08" x2="993.5" y2="670.08"/><line x1="568.2" y1="645.62" x2="993.5" y2="645.62"/><line x1="568.2" y1="621.15" x2="993.5" y2="621.15"/><line x1="568.2" y1="596.69" x2="993.5" y2="596.69"/><line x1="568.2" y1="572.23" x2="993.5" y2="572.23"/></g>
<g font-size="11.8"><text x="561.40" y="722.52" text-anchor="end">0</text><text x="561.40" y="698.06" text-anchor="end">200</text><text x="561.40" y="673.60" text-anchor="end">400</text><text x="561.40" y="649.14" text-anchor="end">600</text><text x="561.40" y="624.68" text-anchor="end">800</text><text x="561.40" y="600.22" text-anchor="end">1000</text><text x="561.40" y="575.76" text-anchor="end">1200</text><text x="568.20" y="734.00" text-anchor="middle">0</text><text x="603.64" y="734.00" text-anchor="middle">2</text><text x="639.08" y="734.00" text-anchor="middle">4</text><text x="674.53" y="734.00" text-anchor="middle">6</text><text x="709.97" y="734.00" text-anchor="middle">8</text><text x="745.41" y="734.00" text-anchor="middle">10</text><text x="780.85" y="734.00" text-anchor="middle">12</text><text x="816.29" y="734.00" text-anchor="middle">14</text><text x="851.73" y="734.00" text-anchor="middle">16</text><text x="887.17" y="734.00" text-anchor="middle">18</text><text x="922.62" y="734.00" text-anchor="middle">20</text><text x="958.06" y="734.00" text-anchor="middle">22</text><text x="993.50" y="734.00" text-anchor="middle">24</text></g>
<text x="780.85" y="548.00" font-size="15.8" text-anchor="middle">Solar Irradiance</text>
<text transform="translate(530.20,639.50) rotate(-90)" font-size="14.3" text-anchor="middle">W/m<tspan font-size="9.5" dy="-7.8">2</tspan></text>
<rect x="568.2" y="560.0" width="425.30" height="159.0" fill="none" stroke="#444" stroke-width="1"/>
<polyline fill="none" stroke="#ff0000" stroke-width="1" stroke-linejoin="round" points="568.2,719.0 674.6,719.1 677.9,717.5 681.2,715.8 684.5,713.1 687.2,711.8 689.8,711.2 691.8,709.2 693.8,708.3 695.4,708.3 696.4,712.2 698.0,711.2 699.3,701.9 700.6,693.3 702.4,687.4 704.1,685.4 705.4,686.7 706.7,696.0 708.0,685.4 709.6,682.8 711.2,680.1 712.5,677.9 713.6,685.4 714.5,694.0 715.6,680.8 716.5,683.4 717.3,687.4 718.2,679.5 719.5,669.5 721.2,666.9 723.1,667.8 724.4,663.9 726.1,666.9 728.1,675.5 729.4,680.8 730.5,671.5 731.8,659.0 733.7,657.7 735.4,656.3 737.4,653.0 737.6,652.4 741.0,648.1 745.3,644.7 748.7,642.2 752.1,639.6 755.5,636.2 759.0,631.9 762.4,629.0 765.8,626.8 769.2,623.3 772.7,619.9 775.2,617.4 776.1,610.2 777.8,605.4 778.6,620.8 779.2,641.3 779.8,661.8 780.4,680.6 781.6,670.4 782.6,673.8 783.8,682.3 785.5,692.6 787.2,703.7 788.4,692.6 789.4,666.9 790.6,652.4 791.8,663.5 792.8,685.8 794.0,693.4 795.8,684.0 798.0,678.9 799.2,673.8 800.0,667.8 801.4,677.2 802.6,678.1 804.3,675.5 805.5,661.8 806.5,624.2 807.4,596.0 808.2,641.3 808.9,678.1 810.3,681.5 811.6,690.0 812.3,655.0 813.3,619.9 814.0,644.7 814.7,682.3 816.2,682.3 817.1,675.5 817.9,641.3 818.8,601.1 819.7,632.7 820.5,661.8 821.9,678.1 823.1,658.4 824.3,624.2 825.3,607.1 826.0,634.5 826.5,643.0 827.4,610.5 828.0,600.3 828.7,637.9 829.4,672.1 830.4,692.6 831.6,695.2 832.8,694.3 833.8,685.8 835.0,670.4 835.9,696.0 836.4,702.8 837.3,694.3 838.5,690.0 839.7,695.2 841.4,692.6 842.7,668.7 843.6,632.7 844.4,607.1 845.3,663.5 846.2,692.6 847.9,692.6 849.6,696.0 850.4,697.7 851.3,668.7 852.1,637.9 853.3,628.5 854.7,626.8 856.1,629.3 857.3,637.0 858.6,641.9 860.8,644.5 863.7,645.1 866.6,646.0 869.2,648.0 870.2,656.4 871.3,670.9 872.4,691.2 873.6,706.5 875.3,702.8 876.5,690.5 877.5,702.8 878.5,707.2 879.7,710.1 880.4,691.2 881.1,660.8 881.9,673.8 882.6,685.4 883.3,679.6 884.0,677.5 884.8,685.4 885.5,697.0 886.9,691.2 888.4,686.9 889.8,670.9 891.0,676.0 892.5,679.6 894.2,682.5 896.4,685.4 898.6,687.6 900.7,689.1 902.9,692.0 905.8,695.9 910.2,700.7 914.5,705.8 918.9,710.1 921.1,714.5 922.5,717.4 926.1,717.6 930.5,718.8 935.0,719.1 935.5,719.0 993.5,719.0"/>
</svg></body></html>
